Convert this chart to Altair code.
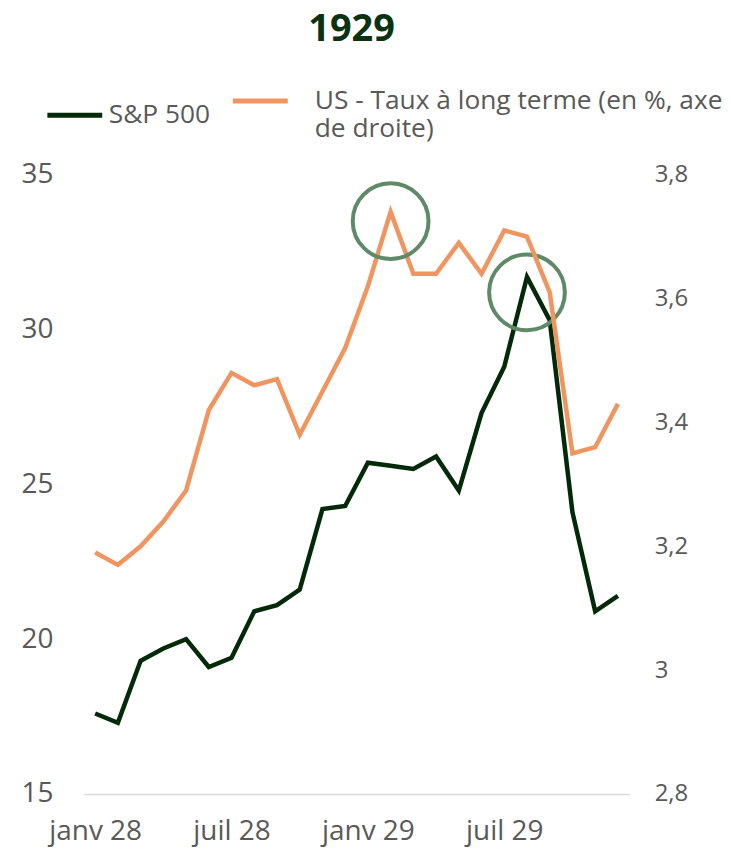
import altair as alt
import pandas as pd

mois = ["janv 28", "févr 28", "mars 28", "avr 28", "mai 28", "juin 28",
        "juil 28", "août 28", "sept 28", "oct 28", "nov 28", "déc 28",
        "janv 29", "févr 29", "mars 29", "avr 29", "mai 29", "juin 29",
        "juil 29", "août 29", "sept 29", "oct 29", "nov 29", "déc 29"]
sp500 = [17.6, 17.3, 19.3, 19.7, 20.0, 19.1, 19.4, 20.9, 21.1, 21.6, 24.2, 24.3,
         25.7, 25.6, 25.5, 25.9, 24.8, 27.3, 28.8, 31.7, 30.3, 24.1, 20.9, 21.4]
taux = [3.19, 3.17, 3.20, 3.24, 3.29, 3.42, 3.48, 3.46, 3.47, 3.38, 3.45, 3.52,
        3.62, 3.74, 3.64, 3.64, 3.69, 3.64, 3.71, 3.70, 3.61, 3.35, 3.36, 3.43]

x_ticks = ["janv 28", "juil 28", "janv 29", "juil 29"]
sp_ticks = [15, 20, 25, 30, 35]
taux_ticks = [2.8, 3.0, 3.2, 3.4, 3.6, 3.8]

serie_sp = "S&P 500"
serie_taux = "US - Taux à long terme (en %, axe de droite)"
PAD = "\u200b" + "\u00a0" * 3
taux_lines = [PAD + "US - Taux à long terme (en %, axe", PAD + "de droite)"]

# annotation circles
circ_sp_mois = ["août 29"]
circ_sp_val = [31.2]
circ_taux_mois = ["févr 29"]
circ_taux_val = [3.725]

df_sp = pd.DataFrame({"mois": mois, "val": sp500, "serie": [serie_sp] * len(mois)})
df_taux = pd.DataFrame({"mois": mois, "val": taux, "serie": [serie_taux] * len(mois)})
df_csp = pd.DataFrame({"mois": circ_sp_mois, "val": circ_sp_val})
df_ctaux = pd.DataFrame({"mois": circ_taux_mois, "val": circ_taux_val})

GREY = "#595959"
FONT = "Open Sans"
SP_COLOR = "#032a08"
TAUX_COLOR = "#f0955f"
CIRC_COLOR = "#5f8a68"

x_enc = alt.X("mois:N", sort=mois,
              scale=alt.Scale(type="point", domain=mois, padding=0.5),
              axis=alt.Axis(title=None, values=x_ticks, labelAngle=0, ticks=False,
                            domain=True, domainColor="#d9d9d9", domainWidth=1.5,
                            labelFontSize=28, labelColor=GREY, labelFont=FONT,
                            labelPadding=24, grid=False))

label_expr = ("datum.label == '" + serie_sp + "' ? datum.label : ['"
              + taux_lines[0] + "', '" + taux_lines[1] + "']")

color_scale = alt.Scale(domain=[serie_sp, serie_taux], range=[SP_COLOR, TAUX_COLOR])
legend = alt.Legend(title=None, orient="none", legendX=-39, legendY=-104,
                    direction="horizontal", symbolType="stroke", symbolStrokeWidth=5,
                    symbolSize=3025, labelFontSize=26.4, labelColor=GREY, labelFont=FONT,
                    labelOffset=4, columnPadding=12, labelLimit=600,
                    labelExpr=label_expr)
color_enc = alt.Color("serie:N", scale=color_scale, legend=legend, sort=[serie_sp, serie_taux])

sp_y = alt.Scale(domain=[15, 35], nice=False, zero=False)
taux_y = alt.Scale(domain=[2.8, 3.8], nice=False, zero=False)

sp_line = alt.Chart(df_sp).mark_line(strokeWidth=4.5).encode(
    x=x_enc,
    y=alt.Y("val:Q", scale=sp_y,
            axis=alt.Axis(title=None, orient="left", values=sp_ticks, domain=False,
                          ticks=False, grid=False, labelFontSize=28, labelColor=GREY,
                          labelFont=FONT, labelPadding=31)),
    color=color_enc,
)
sp_circ = alt.Chart(df_csp).mark_point(shape="circle", filled=False, size=5776,
                                       strokeWidth=4, color=CIRC_COLOR, dx=4, opacity=1).encode(
    x=alt.X("mois:N", sort=mois),
    y=alt.Y("val:Q", scale=sp_y),
)

taux_line = alt.Chart(df_taux).mark_line(strokeWidth=4.5).encode(
    x=x_enc,
    y=alt.Y("val:Q", scale=taux_y,
            axis=alt.Axis(title=None, orient="right", values=taux_ticks, domain=False,
                          ticks=False, grid=False, labelFontSize=24, labelColor=GREY,
                          labelFont=FONT, labelPadding=25,
                          labelExpr="replace(format(datum.value, '.1~f'), '.', ',')")),
    color=color_enc,
)
taux_circ = alt.Chart(df_ctaux).mark_point(shape="circle", filled=False, size=5776,
                                           strokeWidth=4, color=CIRC_COLOR, opacity=1).encode(
    x=alt.X("mois:N", sort=mois),
    y=alt.Y("val:Q", scale=taux_y),
)

chart = alt.layer(
    alt.layer(sp_line, sp_circ),
    alt.layer(taux_line, taux_circ),
).resolve_scale(y="independent").properties(
    width=547, height=621,
    title=alt.TitleParams("1929", fontSize=38, fontWeight="bold", font=FONT,
                          color="#0b3312", anchor="middle", offset=22, dx=-5),
    padding={"left": 12, "top": 2, "right": 0, "bottom": 2},
).configure_view(stroke=None)

chart.save("out.html", embed_options={"renderer": "svg", "actions": False})
